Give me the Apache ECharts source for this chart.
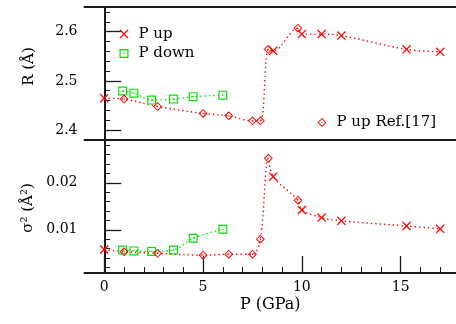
<!DOCTYPE html>
<html><head><meta charset="utf-8">
<script src="https://cdn.jsdelivr.net/npm/echarts@6/dist/echarts.min.js"></script>
<style>html,body{margin:0;padding:0;background:#fff}#c{width:456px;height:324px}</style>
</head><body><div id="c"></div>
<script>
// ---- data ----
const pUpP   = [0, 8.55, 10, 11, 12, 15.3, 17];
const pUpR   = [2.465, 2.561, 2.595, 2.595, 2.592, 2.564, 2.559];
const pUpS   = [0.0058, 0.0213, 0.0142, 0.0126, 0.0119, 0.0108, 0.0102];

const pDownP = [0.93, 1.5, 2.4, 3.5, 4.5, 6.0];
const pDownR = [2.4795, 2.475, 2.461, 2.463, 2.468, 2.471];
const pDownS = [0.0057, 0.0055, 0.0054, 0.0057, 0.0082, 0.0101];

const refP   = [1.0, 2.7, 5.0, 6.3, 7.5, 7.9, 8.3, 9.8];
const refR   = [2.463, 2.448, 2.434, 2.429, 2.419, 2.419, 2.564, 2.607];
const refS   = [0.0053, 0.0050, 0.0046, 0.0048, 0.0048, 0.0080, 0.0252, 0.0163];

const xMajor = [0, 5, 10, 15];
const xMinor = [1, 2, 3, 4, 6, 7, 8, 9, 11, 12, 13, 14, 16, 17];
const rMajor = [2.4, 2.5, 2.6];
const rMinor = [2.38, 2.42, 2.44, 2.46, 2.48, 2.52, 2.54, 2.56, 2.58, 2.62, 2.64];
const sMajor = [0.01, 0.02];
const sMinor = [0.002, 0.004, 0.006, 0.008, 0.012, 0.014, 0.016, 0.018, 0.022, 0.024, 0.026, 0.028];

const labels = { up: 'P up', down: 'P down', ref: 'P up Ref.[17]', x: 'P (GPa)', r: 'R (Å)', s: 'σ² (Å²)' };

// ---- helpers ----
const zip = (xs, ys) => xs.map((x, i) => [x, ys[i]]);
const merged = (a, b) => a.concat(b).sort((p, q) => p[0] - q[0]);

const RED = '#ff0000', GREEN = '#00e000', AX = '#1a1a1a';
const FONT = 'DejaVu Serif';
const SYM_X = 'path://M0,1L1,0L5,4L9,0L10,1L6,5L10,9L9,10L5,6L1,10L0,9L4,5Z';
const SYM_D = 'path://M5,0L10,5L5,10L0,5ZM5,1.5L1.5,5L5,8.5L8.5,5ZM4.4,4.4L5.6,4.4L5.6,5.6L4.4,5.6Z';
const SYM_S = 'path://M0,0L10,0L10,10L0,10ZM1.3,1.3L1.3,8.7L8.7,8.7L8.7,1.3ZM4.3,4.3L5.7,4.3L5.7,5.7L4.3,5.7Z';

const X0 = -1, X1 = 17.8;
const grids = [
  { left: 84.5, top: 7, width: 371.5, height: 133 },
  { left: 84.5, top: 140, width: 371.5, height: 133 }
];
const lineStyle = { color: AX, width: 2 };

const xAxes = [
  { gridIndex: 0, type: 'value', min: X0, max: X1, position: 'bottom',
    axisLine: { show: true, lineStyle }, axisTick: { show: false }, axisLabel: { show: false }, splitLine: { show: false } },
  { gridIndex: 0, type: 'value', min: X0, max: X1, position: 'top',
    axisLine: { show: true, lineStyle }, axisTick: { show: false }, axisLabel: { show: false }, splitLine: { show: false } },
  { gridIndex: 1, type: 'value', min: X0, max: X1, position: 'bottom',
    axisLine: { show: true, lineStyle },
    axisTick: { show: true, inside: true, length: 17, customValues: xMajor, lineStyle: { color: AX, width: 1.3 } },
    axisLabel: { show: true, customValues: xMajor, margin: 7, color: '#000', fontFamily: FONT, fontSize: 14 },
    splitLine: { show: false },
    name: labels.x, nameLocation: 'middle', nameGap: 24,
    nameTextStyle: { color: '#000', fontFamily: FONT, fontSize: 16 } },
  { gridIndex: 1, type: 'value', min: X0, max: X1, position: 'bottom',
    axisLine: { show: false },
    axisTick: { show: true, inside: true, length: 6, customValues: xMinor, lineStyle: { color: AX, width: 1 } },
    axisLabel: { show: false }, splitLine: { show: false } }
];

function yPair(grid, min, max, major, minor, fmt) {
  return [
    { gridIndex: grid, type: 'value', min, max, position: 'left',
      axisLine: { show: true, lineStyle },
      axisTick: { show: true, inside: true, length: 17, customValues: major, lineStyle: { color: AX, width: 1.3 } },
      axisLabel: { show: true, customValues: major, margin: 7, color: '#000', fontFamily: FONT, fontSize: 14, formatter: fmt },
      splitLine: { show: false } },
    { gridIndex: grid, type: 'value', min, max, position: 'left',
      axisLine: { show: false },
      axisTick: { show: true, inside: true, length: 6, customValues: minor, lineStyle: { color: AX, width: 1 } },
      axisLabel: { show: false }, splitLine: { show: false } }
  ];
}
const yAxes = yPair(0, 2.38, 2.65, rMajor, rMinor, v => v.toFixed(1))
  .concat(yPair(1, 0.0008, 0.0291, sMajor, sMinor, v => v.toFixed(2)));

const dotted = (color) => ({ color, width: 1.4, type: [1.4, 3] });
function curve(xi, yi, data, color) {
  return { type: 'line', xAxisIndex: xi, yAxisIndex: yi, data, smooth: 0.35, showSymbol: false, symbol: 'none',
    lineStyle: dotted(color), silent: true, z: 1 };
}
function marks(name, xi, yi, data, sym, color) {
  return { type: 'scatter', name, xAxisIndex: xi, yAxisIndex: yi, data, symbol: sym, symbolSize: 9,
    itemStyle: { color, opacity: 1 }, z: 3 };
}

const series = [
  curve(0, 0, merged(zip(pUpP, pUpR), zip(refP, refR)), RED),
  curve(0, 0, zip(pDownP, pDownR), GREEN),
  curve(2, 2, merged(zip(pUpP, pUpS), zip(refP, refS)), RED),
  curve(2, 2, zip(pDownP, pDownS), GREEN),
  marks(labels.up, 0, 0, zip(pUpP, pUpR), SYM_X, RED),
  marks(labels.down, 0, 0, zip(pDownP, pDownR), SYM_S, GREEN),
  marks(labels.ref, 0, 0, zip(refP, refR), SYM_D, RED),
  marks(labels.up, 2, 2, zip(pUpP, pUpS), SYM_X, RED),
  marks(labels.down, 2, 2, zip(pDownP, pDownS), SYM_S, GREEN),
  marks(labels.ref, 2, 2, zip(refP, refS), SYM_D, RED)
];

const legText = { color: '#000', fontFamily: FONT, fontSize: 15, padding: [0, 0, 0, 5] };
const chart = echarts.init(document.getElementById('c'), null, { renderer: 'canvas' });
chart.setOption({
  animation: false,
  backgroundColor: '#fff',
  grid: grids,
  xAxis: xAxes,
  yAxis: yAxes,
  legend: [
    { data: [labels.up, labels.down], orient: 'vertical', left: 119.5, top: 26.5, padding: 0, itemWidth: 9, itemHeight: 9,
      itemGap: 4.5, textStyle: legText, selectedMode: false },
    { data: [labels.ref], orient: 'horizontal', left: 317.5, top: 115, padding: 0, itemWidth: 9, itemHeight: 9,
      textStyle: legText, selectedMode: false }
  ],
  graphic: [
    { type: 'text', x: 29, y: 66.5, rotation: Math.PI / 2,
      style: { text: labels.r, fill: '#000', font: '15px "DejaVu Serif"', align: 'center', verticalAlign: 'middle' } },
    { type: 'text', x: 28, y: 208, rotation: Math.PI / 2,
      style: { text: labels.s, fill: '#000', font: '15px "DejaVu Serif"', align: 'center', verticalAlign: 'middle' } }
  ],
  series
});
</script></body></html>
